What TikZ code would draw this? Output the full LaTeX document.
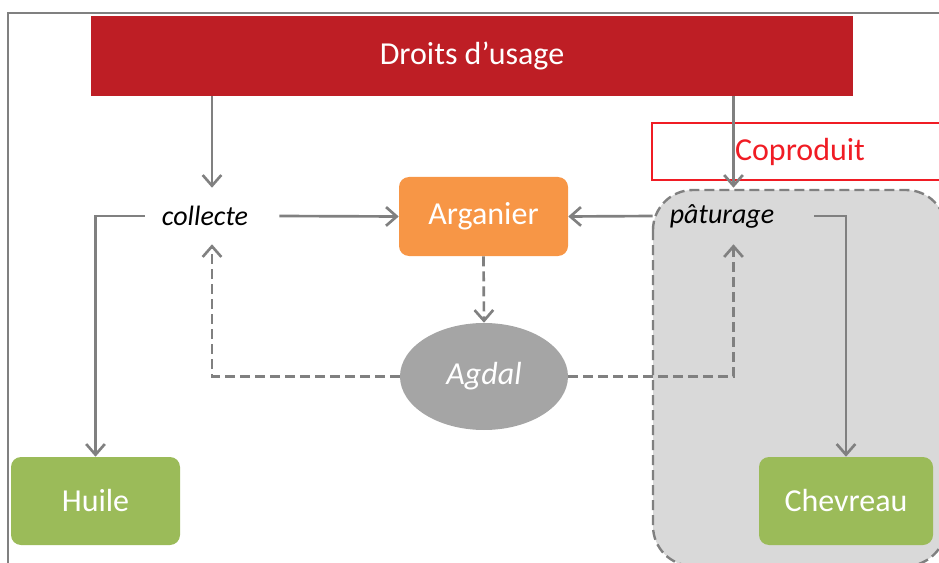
\documentclass[tikz,border=0pt]{standalone}
\usepackage{fontspec}
\setmainfont{Carlito}
\usetikzlibrary{arrows.meta,shapes.geometric}
\definecolor{bannerred}{HTML}{BE1E25}
\definecolor{orangebox}{HTML}{F79646}
\definecolor{greenbox}{HTML}{9BBB59}
\definecolor{agdalgray}{HTML}{A5A5A5}
\definecolor{zonegray}{HTML}{D9D9D9}
\definecolor{linegray}{HTML}{808080}
\definecolor{coprored}{HTML}{F01C24}
\tikzset{
  arr/.style={draw=linegray, line width=2pt, -{Straight Barb[length=8pt,width=14pt,line width=2pt]}},
  dasharr/.style={arr, dash pattern=on 7.5pt off 3.75pt},
  boxnode/.style={rounded corners=7.5pt, text=white, font=\fontsize{24pt}{28pt}\selectfont, inner sep=0pt},
  actnode/.style={font=\fontsize{21pt}{24pt}\selectfont\itshape, inner sep=0pt, minimum height=42pt, text=black},
}
\begin{document}
\begin{tikzpicture}[x=0.75pt,y=-0.75pt]
\useasboundingbox (0,0) rectangle (939,563);
% frame
\draw[linegray, line width=1.7pt] (8,570) -- (8,13) -- (950,13);
% banner
\node[fill=bannerred, minimum width=571.5pt, minimum height=60pt, inner sep=0pt, text=white,
      font=\fontsize{24pt}{28pt}\selectfont] (banner) at (472,56) {\raisebox{-2pt}{Droits d’usage}};
% grey zone
\draw[draw=linegray, line width=1.8pt, dash pattern=on 7.5pt off 3.75pt, fill=zonegray, rounded corners=30pt]
  (653,190) rectangle (946,566);
% coproduit
\node[draw=coprored, line width=1.2pt, minimum width=222pt, minimum height=42.75pt, inner sep=0pt,
      text=coprored, font=\fontsize{24pt}{28pt}\selectfont] (copro) at (800,151.5) {Coproduit};
% nodes
\node[boxnode, fill=orangebox, minimum width=126.75pt, minimum height=59.25pt] (arganier) at (483.5,216.5) {Arganier};
\node[boxnode, fill=greenbox, minimum width=126.75pt, minimum height=66pt] (huile) at (95.5,501) {Huile};
\node[boxnode, fill=greenbox, minimum width=130.5pt, minimum height=66pt] (chevreau) at (846,501) {Chevreau};
\node[ellipse, fill=agdalgray, minimum width=126pt, minimum height=80.25pt, inner sep=0pt, text=white,
      font=\fontsize{24pt}{28pt}\selectfont\itshape] (agdal) at (484,376.5) {Agdal};
\node[actnode, minimum width=100.5pt] (collecte) at (212,216) {collecte\hspace*{10.5pt}};
\node[actnode, minimum width=120.75pt] (paturage) at (733.5,216) {pâturage\hspace*{17.25pt}};
% connectors
\draw[arr] (banner.south -| collecte.north) -- (collecte.north);
\draw[arr] (banner.south -| paturage.north) -- (paturage.north);
\draw[arr] (collecte.east) -- (arganier.west);
\draw[arr] (paturage.west) -- (arganier.east);
\draw[arr] (collecte.west) -| (huile.north);
\draw[arr] (paturage.east) -| (chevreau.north);
\draw[dasharr] (arganier.south) -- (agdal.north);
\draw[dasharr] (agdal.west) -| (collecte.south);
\draw[dasharr] (agdal.east) -| (paturage.south);
\end{tikzpicture}
\end{document}
